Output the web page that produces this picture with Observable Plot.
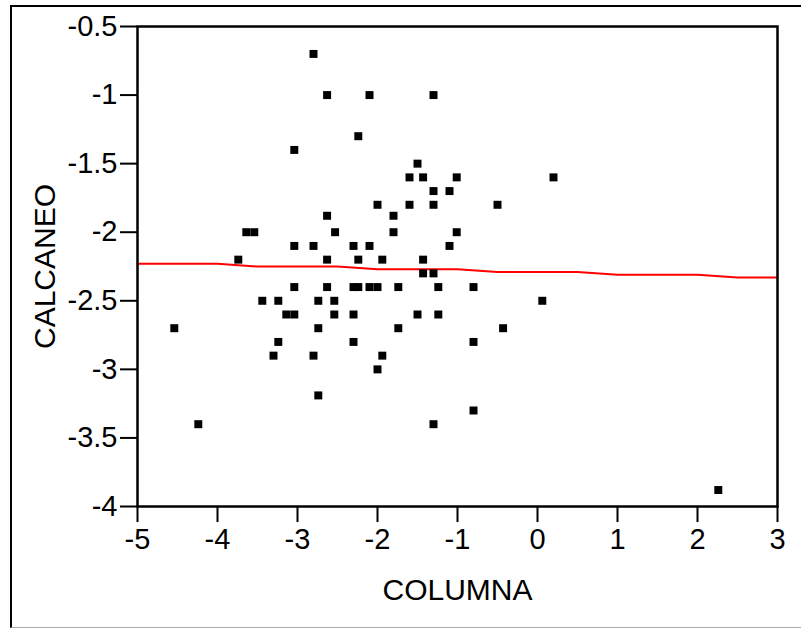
<!DOCTYPE html>
<html>
<head>
<meta charset="utf-8">
<script src="https://cdn.jsdelivr.net/npm/d3@7"></script>
<script src="https://cdn.jsdelivr.net/npm/@observablehq/plot@0.6"></script>
<style>
  html, body { margin: 0; padding: 0; background: white; }
  #wrap { position: relative; width: 801px; height: 628px; overflow: hidden; }
  #border { position: absolute; left: 10px; top: 5px; right: -4px; height: 620px;
            border-left: 2px solid #000; border-top: 2px solid #000; border-bottom: 1px solid #aaa;
            pointer-events: none; }
</style>
</head>
<body>
<div id="wrap"><div id="chart"></div><div id="border"></div></div>
<script>
// Scatter points: COLUMNA (x) and CALCANEO (y)
const columna = [
  -2.80,
  -2.63, -2.10, -1.30,
  -2.24,
  -3.04,
  -1.50,
  -1.60, -1.43, -1.01, 0.20,
  -1.30, -1.10,
  -2.00, -1.60, -1.30, -0.50,
  -2.63, -1.80,
  -3.64, -3.54, -2.53, -1.80, -1.01,
  -3.04, -2.80, -2.30, -2.10, -1.10,
  -3.74, -2.63, -2.24, -1.94, -1.43,
  -1.43, -1.30,
  -3.04, -2.63, -2.30, -2.24, -2.10, -2.00, -1.74, -1.24, -0.80,
  -3.44, -3.24, -2.74, -2.54, 0.06,
  -3.14, -3.04, -2.54, -2.30, -1.50, -1.24,
  -4.54, -2.74, -1.74, -0.43,
  -3.24, -2.30, -0.80,
  -3.30, -2.80, -1.94,
  -2.00,
  -2.74,
  -0.80,
  -4.24, -1.30,
  2.26
];
const calcaneo = [
  -0.70,
  -1.00, -1.00, -1.00,
  -1.30,
  -1.40,
  -1.50,
  -1.60, -1.60, -1.60, -1.60,
  -1.70, -1.70,
  -1.80, -1.80, -1.80, -1.80,
  -1.88, -1.88,
  -2.00, -2.00, -2.00, -2.00, -2.00,
  -2.10, -2.10, -2.10, -2.10, -2.10,
  -2.20, -2.20, -2.20, -2.20, -2.20,
  -2.30, -2.30,
  -2.40, -2.40, -2.40, -2.40, -2.40, -2.40, -2.40, -2.40, -2.40,
  -2.50, -2.50, -2.50, -2.50, -2.50,
  -2.60, -2.60, -2.60, -2.60, -2.60, -2.60,
  -2.70, -2.70, -2.70, -2.70,
  -2.80, -2.80, -2.80,
  -2.90, -2.90, -2.90,
  -3.00,
  -3.19,
  -3.30,
  -3.40, -3.40,
  -3.88
];
// Smoothed (red) line
const lineX = [-5, -4, -3.5, -2.5, -2, -1, -0.5, 0.5, 1, 2, 2.5, 3];
const lineY = [-2.23, -2.23, -2.25, -2.25, -2.27, -2.27, -2.29, -2.29, -2.31, -2.31, -2.33, -2.33];
// Tick values
const xTicks = [-5, -4, -3, -2, -1, 0, 1, 2, 3];
const yTicks = [-4, -3.5, -3, -2.5, -2, -1.5, -1, -0.5];

const points = columna.map((x, i) => ({x, y: calcaneo[i]}));
const smooth = lineX.map((x, i) => ({x, y: lineY[i]}));

const font = "'Liberation Sans', Arial, sans-serif";
const chart = Plot.plot({
  width: 801,
  height: 628,
  marginLeft: 137,
  marginRight: 24,
  marginTop: 26,
  marginBottom: 122,
  style: {fontFamily: font, fontSize: "29px", background: "white", color: "black"},
  x: {domain: [-5, 3]},
  y: {domain: [-4, -0.5]},
  marks: [
    Plot.axisX({ticks: xTicks, tickSize: 16, tickPadding: 6, strokeWidth: 2,
      tickFormat: d => String(d), fontSize: 29, label: null}),
    Plot.axisX({ticks: [], tickSize: 0, fontSize: 30,
      label: "COLUMNA", labelAnchor: "center", labelArrow: "none", labelOffset: 93}),
    Plot.axisY({ticks: yTicks, tickSize: 17, tickPadding: 3, strokeWidth: 2,
      tickFormat: d => String(d), fontSize: 29, label: null}),
    Plot.axisY({ticks: [], tickSize: 0, fontSize: 30,
      label: "CALCANEO", labelAnchor: "center", labelArrow: "none", labelOffset: 104}),
    Plot.line(smooth, {x: "x", y: "y", stroke: "#ff0000", strokeWidth: 2}),
    Plot.dot(points, {x: "x", y: "y", symbol: "square", r: 4.5, fill: "#000", stroke: "none"}),
    Plot.frame({stroke: "#000", strokeWidth: 2.5})
  ]
});
document.getElementById("chart").appendChild(chart);
</script>
</body>
</html>
